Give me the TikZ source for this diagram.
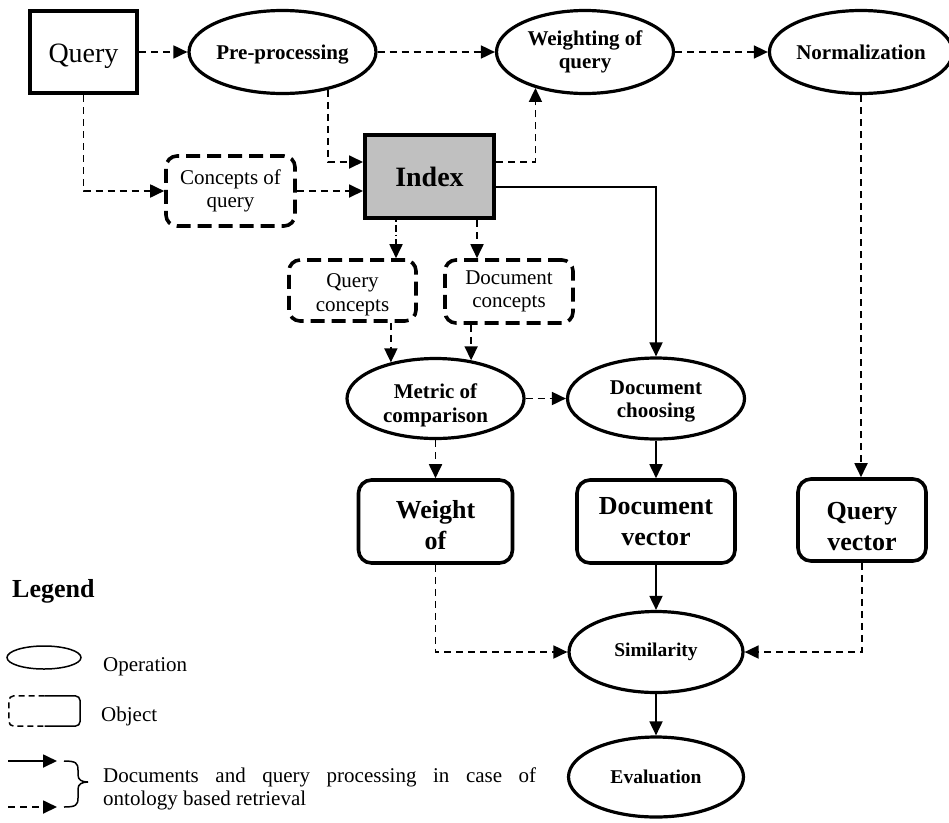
\documentclass[tikz,border=0pt]{standalone}
\usepackage{fontspec}
\setmainfont{Liberation Serif}
\usepackage{tikz}
\usetikzlibrary{arrows.meta,shapes.geometric}
\definecolor{idxgray}{RGB}{192,192,192}
\newcommand{\fsz}[2]{\fontsize{#1pt}{#2pt}\selectfont}
\tikzset{
  op/.style={ellipse,draw,line width=3.2pt,inner sep=0pt,align=center,font=\fsz{21}{23.5}\bfseries},
  obj/.style={rectangle,draw,rounded corners=11pt,line width=3.6pt,dash pattern=on 14pt off 7pt,inner sep=0pt,align=center,font=\fsz{21}{23.5}},
  vec/.style={rectangle,draw,rounded corners=13pt,line width=3.6pt,inner sep=0pt,align=center,font=\fsz{26}{31}\bfseries},
  arr/.style={-{Triangle[length=14pt,width=13pt]}},
  da/.style={arr,line width=1.8pt,dash pattern=on 7pt off 5pt},
  sa/.style={arr,line width=1.8pt},
  dd/.style={arr,line width=1.8pt,dash pattern=on 1.5pt off 3pt on 7pt off 3pt}
}
\newcommand{\lgtext}[1]{\fsz{21}{23.5}#1}
\newcommand{\tl}[1]{\rule{0pt}{#1pt}}

\begin{document}
\begin{tikzpicture}[x=1pt,y=-1pt]
\useasboundingbox (0,0) rectangle (949,822);
\node[draw,line width=4pt,minimum width=107pt,minimum height=82pt,inner sep=0pt,font=\fsz{28}{32}] (query) at (83.5,52) {\tl{27}Query};
\node[op,minimum width=176pt,minimum height=83pt] (pre) at (282.5,52) {\tl{20.5}Pre-processing};
\node[op,minimum width=177pt,minimum height=83pt] (wq) at (585,52) {Weighting of\\query};
\node[op,minimum width=173pt,minimum height=83pt] (norm) at (861,52) {Normalization};
\node[draw,fill=idxgray,line width=4pt,minimum width=129pt,minimum height=83pt,inner sep=0pt,font=\fsz{28}{32}\bfseries] (index) at (429.5,176.5) {Index};
\node[obj,minimum width=129pt,minimum height=70pt] (cq) at (230.5,191) {Concepts of\\query};
\node[obj,minimum width=127pt,minimum height=61pt] (qc) at (352.5,290.5) {\tl{22}Query\\concepts};
\node[obj,minimum width=128pt,minimum height=63pt] (dc) at (509,291.5) {Document\\concepts};
\node[op,minimum width=177pt,minimum height=80pt] (metric) at (435.5,398.5) {\tl{28.5}Metric of\\comparison};
\node[op,minimum width=177pt,minimum height=81pt] (dch) at (656,398.5) {\tl{20}Document\\choosing};
\node[vec,minimum width=154pt,minimum height=83pt] (wo) at (435.5,521.5) {\tl{26}Weight\\of};
\node[vec,minimum width=158pt,minimum height=83pt] (dv) at (656,521.5) {Document\\vector};
\node[vec,minimum width=128pt,minimum height=82pt] (qv) at (862,520) {\tl{30}Query\\vector};
\node[op,minimum width=174pt,minimum height=81pt,font=\fsz{19.5}{22}\bfseries] (sim) at (656,652) {Similarity};
\node[op,minimum width=175pt,minimum height=80pt,font=\fsz{19.5}{22}\bfseries] (eval) at (656,777) {Evaluation};

\draw[da] (query.east) -- (pre.west);
\draw[da] (pre.east) -- (wq.west);
\draw[da] (wq.east) -- (norm.west);
\draw[da] (query.south) |- (cq.west);
\draw[da] (pre.-40) |- ([yshift=14.5pt]index.west);
\draw[da] (cq.east) -- (cq.east -| index.west);
\draw[da] ([yshift=14.5pt]index.east) -| (wq.-144);
\draw[sa] ([yshift=-10.5pt]index.east) -| (dch.north);
\draw[dd] ([xshift=-33.5pt]index.south) -- ([xshift=-33.5pt]index.south |- qc.north);
\draw[da] ([xshift=47.5pt]index.south) -- ([xshift=47.5pt]index.south |- dc.north);
\draw[da] (metric.141 |- qc.south) -- (metric.141);
\draw[da] (metric.47 |- dc.south) -- (metric.47);
\draw[da] (metric.east) -- (metric.east -| dch.west);
\draw[da] (metric.south) -- (wo.north);
\draw[sa] (dch.south) -- (dv.north);
\draw[da] (norm.south) -- (norm.south |- qv.north);
\draw[da] (wo.south) |- (sim.west);
\draw[sa] (dv.south) -- (sim.north);
\draw[da] (qv.south) |- (sim.east);
\draw[sa] (sim.south) -- (eval.north);

\node[anchor=base west,inner sep=0pt,font=\fsz{26}{30}\bfseries] (leg) at (12,597) {Legend};
\node[ellipse,draw,line width=1.5pt,minimum width=74pt,minimum height=23pt,inner sep=0pt] (lop) at (44,657.5) {};
\node[anchor=base west,inner sep=0pt] (lopt) at (103,671) {\lgtext{Operation}};
\node[minimum width=71pt,minimum height=30pt,inner sep=0pt] (lobj) at (44.5,711) {};
\draw[line width=1.5pt,dash pattern=on 6pt off 4pt,rounded corners=5pt] (lobj.north) -| (lobj.west) |- (lobj.south);
\draw[line width=1.5pt,rounded corners=5pt] (lobj.north) -| (lobj.east) |- (lobj.south);
\node[anchor=base west,inner sep=0pt] (lobjt) at (101,721) {\lgtext{Object}};
\coordinate (la1) at (8,761);
\coordinate (lb1) at (57,761);
\coordinate (la2) at (8,807);
\coordinate (lb2) at (57,807);
\draw[sa] (la1) -- (lb1);
\draw[da] (la2) -- (lb2);
\draw[line width=1.5pt] (64,761) .. controls (76,761) and (78,763) .. (78,770) -- (78,775) .. controls (78,780) and (82,782) .. (88,782);
\draw[line width=1.5pt] (64,807) .. controls (76,807) and (78,805) .. (78,798) -- (78,789) .. controls (78,784) and (82,782) .. (88,782);
\node[anchor=base west,inner sep=0pt] (ltxt) at (103,782) {\parbox[t]{433pt}{\lgtext{Documents and query processing in case of\linebreak ontology based retrieval}}};
\end{tikzpicture}
\end{document}
